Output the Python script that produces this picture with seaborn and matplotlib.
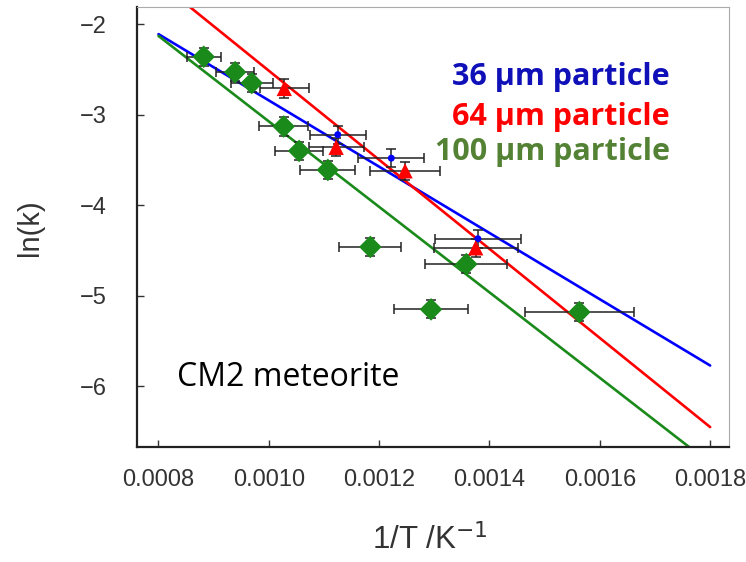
import numpy as np
import pandas as pd
import matplotlib
matplotlib.use("Agg")
import matplotlib.pyplot as plt
import seaborn as sns

# ---- data ----
series_names = ["36 µm particle", "64 µm particle", "100 µm particle"]

x_36 = [0.001125, 0.001222, 0.001379]
y_36 = [-3.22, -3.48, -4.37]
xerr_36 = [0.000051, 0.000060, 0.000078]
yerr_36 = [0.10, 0.10, 0.10]

x_64 = [0.001028, 0.001122, 0.001247, 0.001375]
y_64 = [-2.71, -3.36, -3.62, -4.47]
xerr_64 = [0.000044, 0.000050, 0.000063, 0.000076]
yerr_64 = [0.10, 0.10, 0.10, 0.10]

x_100 = [0.000882, 0.000939, 0.000969, 0.001027, 0.001055, 0.001107,
         0.001184, 0.001294, 0.001358, 0.001563]
y_100 = [-2.36, -2.53, -2.65, -3.13, -3.40, -3.61,
         -4.46, -5.15, -4.65, -5.18]
xerr_100 = [0.000031, 0.000034, 0.000038, 0.000044, 0.000044, 0.000050,
            0.000056, 0.000067, 0.000074, 0.000099]
yerr_100 = [0.10, 0.10, 0.10, 0.10, 0.10, 0.10, 0.10, 0.10, 0.10, 0.10]

# Arrhenius fits: ln(k) = intercept + slope * (1/T)
fit_slope = [-3660.0, -4920.0, -4720.0]
fit_intercept = [0.818, 2.406, 1.646]
fit_range = [0.0008, 0.0018]

xticks = [0.0008, 0.0010, 0.0012, 0.0014, 0.0016, 0.0018]
xtick_labels = ["0.0008", "0.0010", "0.0012", "0.0014", "0.0016", "0.0018"]
yticks = [-6, -5, -4, -3, -2]

# ---- style ----
line_colors = ["#0000ff", "#ff0000", "#1a8a1a"]
text_colors = ["#1010b8", "#ff0000", "#548235"]
markers = ["o", "^", "D"]
marker_sizes = [5, 11, 11.5]

sns.set_theme(style="white")
plt.rcParams["font.family"] = ["Liberation Sans", "DejaVu Sans"]

fig = plt.figure(figsize=(7.46, 5.62), dpi=100)
ax = fig.add_axes([0.1836, 0.2046, 0.7935, 0.783])

# fit lines
fit_frames = []
for name, m, b in zip(series_names, fit_slope, fit_intercept):
    xs = np.array(fit_range)
    fit_frames.append(pd.DataFrame({"x": xs, "y": b + m * xs, "series": name}))
fit_df = pd.concat(fit_frames, ignore_index=True)
sns.lineplot(data=fit_df, x="x", y="y", hue="series", palette=dict(zip(series_names, line_colors)),
             linewidth=1.9, legend=False, ax=ax, zorder=2)

# points with error bars
pts = [
    (x_36, y_36, xerr_36, yerr_36),
    (x_64, y_64, xerr_64, yerr_64),
    (x_100, y_100, xerr_100, yerr_100),
]
frames = []
for name, (xx, yy, xe, ye) in zip(series_names, pts):
    frames.append(pd.DataFrame({"x": xx, "y": yy, "xerr": xe, "yerr": ye, "series": name}))
df = pd.concat(frames, ignore_index=True)

ax.errorbar(df["x"], df["y"], xerr=df["xerr"], yerr=df["yerr"], fmt="none",
            ecolor="#222222", elinewidth=1.1, capsize=3.5, capthick=1.1, zorder=3)

for name, col, mk, ms in zip(series_names, line_colors, markers, marker_sizes):
    sub = df[df["series"] == name]
    sns.scatterplot(data=sub, x="x", y="y", color=col, marker=mk, s=ms ** 2,
                    edgecolor="none", linewidth=0, ax=ax, zorder=4, legend=False)

ax.set_xlim(0.000761, 0.001834)
ax.set_ylim(-6.67, -1.81)
ax.set_xticks(xticks)
ax.set_xticklabels(xtick_labels)
ax.set_yticks(yticks)
ax.set_yticklabels([f"\u2212{abs(v)}" for v in yticks])
ax.tick_params(axis="both", direction="in", length=5, width=1, color="#333333",
               labelsize=17, labelcolor="#333333", bottom=True, left=True,
               top=False, right=False)
ax.tick_params(axis="y", pad=22)
ax.tick_params(axis="x", pad=16)

for side in ["left", "bottom"]:
    ax.spines[side].set_color("#222222")
    ax.spines[side].set_linewidth(1.6)
for side in ["top", "right"]:
    ax.spines[side].set_color("#aaaaaa")
    ax.spines[side].set_linewidth(0.8)

ax.set_xlabel("")
ax.set_ylabel("")
fig.text(30 / 746, 1 - 228 / 562, "ln(k)", rotation=90, ha="center", va="center",
         fontsize=21, color="#333333")
fig.text(430 / 746, 1 - 540 / 562, "1/T /K$^{-1}$", ha="center", va="center",
         fontsize=22.5, color="#333333")

# series labels
label_fam = ["Open Sans", "DejaVu Sans"]
ys = [77, 117, 152]
for name, col, yp in zip(series_names, text_colors, ys):
    fig.text(670 / 746, 1 - yp / 562, name, ha="right", va="center", fontsize=22,
             fontweight="bold", color=col, family=label_fam)

fig.text(177 / 746, 1 - 378 / 562, "CM2 meteorite", ha="left", va="center",
         fontsize=23, color="black", family=label_fam)

fig.savefig("out.png", dpi=100)
